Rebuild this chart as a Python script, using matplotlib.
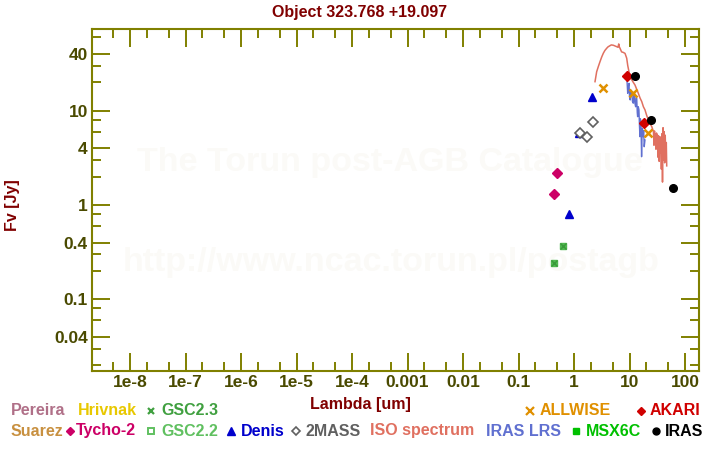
import matplotlib
matplotlib.use("Agg")
import matplotlib.pyplot as plt
from matplotlib.lines import Line2D
from matplotlib.ticker import LogLocator, FixedLocator, FixedFormatter, NullFormatter

# ---------------- data ----------------
tycho_wl = [0.44, 0.50]
tycho_f = [1.31, 2.17]

gsc23_wl = [0.44, 0.64]
gsc23_f = [0.241, 0.365]

denis_wl = [0.81, 1.23, 2.11]
denis_f = [0.80, 5.84, 14.1]

tmass_wl = [1.26, 1.71, 2.17]
tmass_f = [5.76, 5.30, 7.53]

allwise_wl = [3.37, 11.7, 21.9]
allwise_f = [17.3, 15.3, 5.76]

akari_wl = [9.1, 18.4]
akari_f = [23.2, 7.35]

iras_wl = [12.4, 24.7, 61.5]
iras_f = [23.2, 7.91, 1.50]

iso_wl = [2.39, 2.56, 2.75, 2.94, 3.15, 3.37, 3.6, 3.88, 4.1, 4.45, 4.7, 5.11,
          5.5, 5.88, 6.2, 6.39, 6.55, 6.74, 7.2, 7.7, 8.3, 8.9, 9.3, 9.9, 10.5,
          11.0, 11.8, 12.56, 13.4, 14.41, 15.5, 16.6, 17.8, 19.0, 20.4, 21.8,
          23.4, 25.1, 26.0,
          27.0, 27.6, 28.2, 28.8, 29.4, 30.0, 30.7, 31.4, 32.1, 32.8, 33.5,
          34.3, 35.1, 35.9, 36.7, 37.5, 38.4, 39.3, 40.2, 41.1, 42.0, 43.0,
          44.0, 45.0, 46.0, 46.8]
iso_f = [20.3, 25.9, 29.5, 33.1, 37.0, 40.6, 43.5, 45.9, 47.5, 48.9, 49.8, 49.4,
         48.5, 47.7, 47.0, 51.0, 47.5, 45.9, 42.0, 41.5, 40.5, 36.0, 30.0, 25.0, 22.5,
         21.2, 19.8, 18.7, 17.0, 15.3, 13.6, 12.5, 11.0, 10.2, 8.9, 8.0,
         7.3, 6.8, 6.4,
         6.0, 4.3, 6.1, 4.8, 5.6, 3.9, 5.8, 4.4, 5.5, 3.2, 5.4,
         2.9, 5.3, 3.6, 5.2, 2.4, 5.7, 1.75, 6.6, 3.0, 6.0, 2.8,
         5.5, 3.2, 4.6, 2.6]

lrs_wl = [8.7, 9.0, 9.27, 9.5, 9.8, 10.0, 10.3, 10.6, 10.96, 11.3, 11.7, 12.0,
          12.2, 12.5, 12.9, 13.2, 13.5, 13.8, 14.0, 14.4, 14.8, 15.1, 15.4,
          15.7, 16.1, 16.5, 16.9, 17.5, 18.0, 18.4, 19.0]
lrs_f = [22.5, 21.2, 15.3, 18.0, 19.5, 14.0, 13.0, 16.5, 15.9, 12.5, 12.0, 15.0,
         14.7, 12.0, 11.0, 13.8, 13.5, 9.5, 8.64, 11.0, 10.2, 7.0, 5.3,
         8.2, 7.35, 3.25, 6.5, 5.3, 6.2, 4.15, 4.89]

x_major = [1e-8, 1e-7, 1e-6, 1e-5, 1e-4, 1e-3, 1e-2, 1e-1, 1, 10, 100]
x_labels = ["1e-8", "1e-7", "1e-6", "1e-5", "1e-4", "0.001", "0.01", "0.1", "1", "10", "100"]
y_major = [0.04, 0.1, 0.4, 1, 4, 10, 40]
y_labels = ["0.04", "0.1", "0.4", "1", "4", "10", "40"]

title = "Object 323.768 +19.097"

# ---------------- style ----------------
FONT = "Liberation Sans"
W, H = 720, 450
AXC = "#808000"
LBLC = "#4a4a00"
DRED = "#800000"


def fp(x, y):
    return x / W, 1 - y / H


fig = plt.figure(figsize=(7.2, 4.5), dpi=100)
ax = fig.add_axes([92 / W, 1 - 371 / H, (699 - 92) / W, (371 - 29) / H])
ax.set_xscale("log")
ax.set_yscale("log")
ax.set_xlim(10 ** -8.685, 10 ** 2.252)
ax.set_ylim(10 ** -1.760, 10 ** 1.866)

for s in ax.spines.values():
    s.set_color(AXC)
    s.set_linewidth(1.5)

ax.xaxis.set_major_locator(FixedLocator(x_major))
ax.xaxis.set_major_formatter(FixedFormatter(x_labels))
ax.xaxis.set_minor_locator(LogLocator(base=10, subs=[2, 5], numticks=30))
ax.xaxis.set_minor_formatter(NullFormatter())
ax.yaxis.set_major_locator(FixedLocator(y_major))
ax.yaxis.set_major_formatter(FixedFormatter(y_labels))
ax.yaxis.set_minor_locator(LogLocator(base=10, subs=[2, 3, 6, 8], numticks=30))
ax.yaxis.set_minor_formatter(NullFormatter())

ax.tick_params(which="both", direction="in", top=True, right=True, color=AXC, width=1.4)
ax.tick_params(which="major", length=13)
ax.tick_params(which="minor", length=6.5)
ax.tick_params(axis="both", which="major", labelcolor=LBLC, labelsize=12.5, pad=3)
for lab in ax.get_xticklabels() + ax.get_yticklabels():
    lab.set_fontfamily(FONT)
    lab.set_fontweight("bold")

# watermark
ax.text(*fp(390, 163), "The Torun post-AGB Catalogue", transform=fig.transFigure,
        ha="center", va="center", fontsize=24.5, fontweight="bold", family=FONT,
        color="#fbfaf7", zorder=0)
ax.text(*fp(391, 262), "http://www.ncac.torun.pl/postagb", transform=fig.transFigure,
        ha="center", va="center", fontsize=24.5, fontweight="bold", family=FONT,
        color="#fbfaf7", zorder=0)

# series
ax.plot(iso_wl, iso_f, color="#e07060", lw=1.1, zorder=3)
ax.plot(lrs_wl, lrs_f, color="#6070d0", lw=1.0, zorder=3)
ax.plot(tycho_wl, tycho_f, "D", color="#cc0066", ms=5, zorder=5, ls="none")
ax.plot(gsc23_wl, gsc23_f, "s", color="#50b850", ms=5, zorder=5, ls="none")
ax.plot(gsc23_wl, gsc23_f, "x", color="#3a9a3a", ms=4, mew=1.0, zorder=6, ls="none")
ax.plot(denis_wl, denis_f, "^", color="#0000cc", ms=6, zorder=5, ls="none")
ax.plot(tmass_wl, tmass_f, "D", mfc="white", mec="#606060", mew=1.2, ms=5, zorder=5, ls="none")
ax.plot(allwise_wl, allwise_f, "x", color="#e09000", ms=6, mew=1.8, zorder=6, ls="none")
ax.plot(akari_wl, akari_f, "D", color="#d00000", ms=5.5, zorder=6, ls="none")
ax.plot(iras_wl, iras_f, "o", color="black", ms=5.5, zorder=6, ls="none")

# titles / labels
fig.text(*fp(360, 12), title, ha="center", va="center", fontsize=11.5,
         fontweight="bold", family=FONT, color=DRED)
fig.text(*fp(360, 404), "Lambda [um]", ha="center", va="center", fontsize=11.5,
         fontweight="bold", family=FONT, color=DRED)
fig.text(*fp(13, 205), "Fv [Jy]", ha="center", va="center", rotation=90, fontsize=11.5,
         fontweight="bold", family=FONT, color=DRED)

# legend (manual)
def ltext(x, y, s, c):
    fig.text(*fp(x, y), s, ha="left", va="center", fontsize=11.5, fontweight="bold",
             family=FONT, color=c)


def lmark(x, y, m, c, **kw):
    fx, fy = fp(x, y)
    fig.add_artist(Line2D([fx], [fy], transform=fig.transFigure, marker=m,
                          color=c, ls="none", **kw))


r1, r2 = 410.5, 431
ltext(11, r1, "Pereira", "#b07088")
ltext(78, r1, "Hrivnak", "#e8c800")
lmark(151, r1, "x", "#40a040", ms=5, mew=1.6)
ltext(161, r1, "GSC2.3", "#40a040")
lmark(530, r1, "x", "#e09000", ms=6, mew=1.6)
ltext(540, r1, "ALLWISE", "#e09000")
lmark(641, r1, "D", "#d00000", ms=4.5)
ltext(650, r1, "AKARI", "#d00000")

ltext(11, r2, "Suarez", "#c89040")
lmark(70, r2, "D", "#cc0066", ms=4.5)
ltext(76, r2, "Tycho-2", "#cc0066")
lmark(151, r2, "s", "#60c060", ms=4.5, mfc="white", mew=1.4)
ltext(161, r2, "GSC2.2", "#60c060")
lmark(231, r2, "^", "#0000cc", ms=5.5)
ltext(241, r2, "Denis", "#0000cc")
lmark(296, r2, "D", "#606060", ms=4.5, mfc="white", mew=1.2)
ltext(306, r2, "2MASS", "#606060")
ltext(370, r2, "ISO spectrum", "#e07060")
ltext(486, r2, "IRAS LRS", "#6070d0")
lmark(576, r2, "s", "#00c000", ms=5)
ltext(586, r2, "MSX6C", "#00c000")
lmark(656, r2, "o", "black", ms=5)
ltext(665, r2, "IRAS", "black")

fig.savefig("out.png", dpi=100)
